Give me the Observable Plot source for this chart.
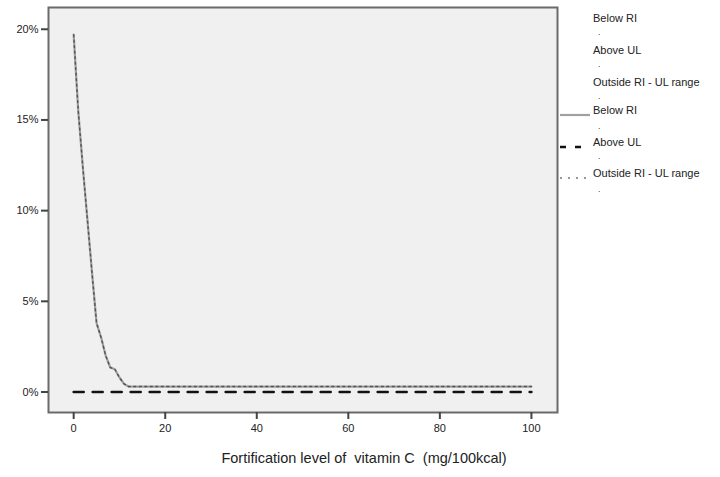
<!DOCTYPE html>
<html>
<head>
<meta charset="utf-8">
<script src="https://cdn.jsdelivr.net/npm/d3@7"></script>
<script src="https://cdn.jsdelivr.net/npm/@observablehq/plot@0.6"></script>
<style>
  html, body { margin: 0; padding: 0; background: #fff; }
  #wrap { position: relative; width: 720px; height: 477px; font-family: "Liberation Sans", Arial, sans-serif; }
  #legend { position: absolute; left: 558px; top: 0; width: 162px; font-size: 11px; color: #222; }
  .item { position: absolute; left: 35px; white-space: nowrap; line-height: 12px; }
  .dot { position: absolute; left: 40px; font-size: 9px; color: #444; line-height: 9px; }
  .sw { position: absolute; left: 0; }
</style>
</head>
<body>
<div id="wrap"><div id="chart"></div><div id="legend"></div></div>
<script>
// Fortification level (mg/100kcal)
const levels = [0, 1, 2, 3, 4, 5, 6, 7, 8, 9, 10, 11, 12, 13, 20, 30, 40, 50, 60, 70, 80, 90, 100];
// Percentage below RI
const belowRI = [19.7, 15.5, 12.4, 9.5, 6.6, 3.8, 3.0, 2.0, 1.35, 1.25, 0.8, 0.45, 0.3, 0.3, 0.3, 0.3, 0.3, 0.3, 0.3, 0.3, 0.3, 0.3, 0.3];
// Percentage above UL
const aboveUL = [0, 0, 0, 0, 0, 0, 0, 0, 0, 0, 0, 0, 0, 0, 0, 0, 0, 0, 0, 0, 0, 0, 0];
// Percentage outside RI - UL range
const outside = [19.7, 15.5, 12.4, 9.5, 6.6, 3.8, 3.0, 2.0, 1.35, 1.25, 0.8, 0.45, 0.3, 0.3, 0.3, 0.3, 0.3, 0.3, 0.3, 0.3, 0.3, 0.3, 0.3];

const xTicks = [0, 20, 40, 60, 80, 100];
const yTicks = [0, 5, 10, 15, 20];
const xLabel = "Fortification level of  vitamin C  (mg/100kcal)";
const legendLabels = ["Below RI", "Above UL", "Outside RI - UL range"];

const rows = levels.map((x, i) => ({x, below: belowRI[i], above: aboveUL[i], outside: outside[i]}));

const chart = Plot.plot({
  width: 720,
  height: 477,
  marginLeft: 48,
  marginTop: 7,
  marginRight: 163,
  marginBottom: 65,
  style: {fontFamily: "Liberation Sans, Arial, sans-serif", fontSize: "11px", color: "#222", background: "#fff"},
  x: {domain: [-5.5, 105.7]},
  y: {domain: [-1.13, 21.2]},
  marks: [
    Plot.frame({fill: "#f0f0f0", stroke: "none"}),
    Plot.line(rows, {x: "x", y: "above", stroke: "#111", strokeWidth: 2.6, strokeDasharray: "10,9"}),
    Plot.line(rows, {x: "x", y: "below", stroke: "#a0a0a0", strokeWidth: 2.2}),
    Plot.line(rows, {x: "x", y: "outside", stroke: "#555", strokeWidth: 1.4, strokeDasharray: "2,3.5"}),
    Plot.frame({stroke: "#6a6a6a", strokeWidth: 2}),
    Plot.axisY({ticks: yTicks, tickFormat: d => d + "%", tickSize: 7, tickPadding: 3, label: null, stroke: "#444", strokeWidth: 2, fontSize: 11}),
    Plot.axisX({ticks: xTicks, tickFormat: d => String(d), tickSize: 7, tickPadding: 5, label: null, stroke: "#444", strokeWidth: 2, fontSize: 11}),
    Plot.text([xLabel], {frameAnchor: "bottom", dy: 50, dx: 61, fontSize: 14.5, fill: "#222"})
  ]
});
document.getElementById("chart").appendChild(chart);

// Legend
const legend = document.getElementById("legend");
const labelTops = [12, 44, 76, 104, 136, 167];
const dotTops = [28, 60, 92, 122, 152, 185];
const allLabels = legendLabels.concat(legendLabels);
allLabels.forEach((t, i) => {
  const d = document.createElement("div");
  d.className = "item"; d.style.top = labelTops[i] + "px"; d.textContent = t;
  legend.appendChild(d);
  const p = document.createElement("div");
  p.className = "dot"; p.style.top = dotTops[i] + "px"; p.textContent = ".";
  legend.appendChild(p);
});
const swatches = [
  {top: 115, stroke: "#a0a0a0", w: 2.2, dash: null},
  {top: 147, stroke: "#111", w: 2.6, dash: "6,9"},
  {top: 178, stroke: "#777", w: 1.4, dash: "2,6"}
];
swatches.forEach(s => {
  const ns = "http://www.w3.org/2000/svg";
  const svg = document.createElementNS(ns, "svg");
  svg.setAttribute("width", 32); svg.setAttribute("height", 6);
  svg.setAttribute("class", "sw");
  svg.style.top = (s.top - 3) + "px";
  svg.style.left = "2px";
  const l = document.createElementNS(ns, "line");
  l.setAttribute("x1", 0); l.setAttribute("x2", 30); l.setAttribute("y1", 3); l.setAttribute("y2", 3);
  l.setAttribute("stroke", s.stroke); l.setAttribute("stroke-width", s.w);
  if (s.dash) l.setAttribute("stroke-dasharray", s.dash);
  svg.appendChild(l);
  legend.appendChild(svg);
});
</script>
</body>
</html>
